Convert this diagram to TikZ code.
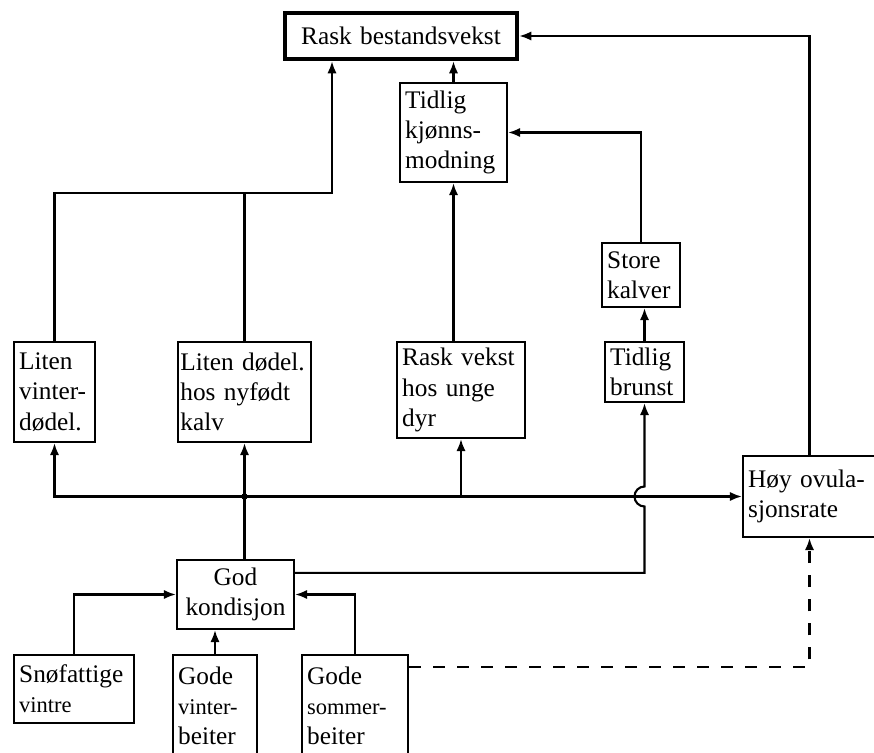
\documentclass[tikz,border=0pt]{standalone}
\usepackage{fontspec}
\setmainfont{Liberation Serif}
\usetikzlibrary{arrows.meta}
\newcommand{\smalltxt}[1]{{\fontsize{16pt}{21.5pt}\selectfont #1}}
\tikzset{
  box/.style={draw, rectangle, line width=1.5pt, inner xsep=1.3mm, inner ysep=0pt, align=left, font=\fontsize{18pt}{21.5pt}\selectfont},
  mainbox/.style={box, line width=3.2pt, align=center},
  arr/.style={line width=1.5pt, -{Latex[length=3mm,width=2.3mm]}},
  wire/.style={line width=1.5pt}
}
\begin{document}
\begin{tikzpicture}[x=0.025cm, y=-0.025cm]%
\useasboundingbox (0, 0) rectangle (874, 753);%
\node[mainbox, text width=55.4mm, minimum height=11.5mm] (R) at (401, 36) {Rask bestandsvekst};%
\node[box, text width=24.15mm, minimum height=24.75mm] (TK) at (453.5, 132.5) {Tidlig\\kjønns-\\modning};%
\node[box, text width=16.9mm, minimum height=16mm] (SK) at (641, 275) {Store\\kalver};%
\node[box, text width=17.15mm, minimum height=15mm] (TB) at (644.5, 372) {Tidlig\\brunst};%
\node[box, text width=17.65mm, minimum height=25mm] (LV) at (54.5, 392) {Liten\\vinter-\\dødel.};%
\node[box, inner xsep=0.6mm, text width=32.05mm, minimum height=25mm] (LD) at (244.5, 392) {Liten dødel.\\hos nyfødt\\kalv};%
\node[box, text width=29.4mm, minimum height=24mm] (RV) at (461, 390) {Rask vekst\\hos unge\\dyr};%
\node[box, text width=30.65mm, minimum height=20.25mm] (HO) at (809.5, 496.5) {Høy ovula-\\sjonsrate};%
\node[box, align=center, text width=26.65mm, minimum height=17.25mm] (GK) at (235.5, 594.5) {God\\kondisjon};%
\node[box, text width=27.4mm, minimum height=17mm] (SV) at (74, 689) {Snøfattige\\\smalltxt{vintre}};%
\node[box, text width=18.4mm, minimum height=25.5mm] (GV) at (215, 706) {Gode\\\smalltxt{vinter-}\\beiter};%
\node[box, text width=23.9mm, minimum height=25.5mm] (GS) at (355, 706) {Gode\\\smalltxt{sommer-}\\beiter};%
\coordinate (lj) at (332, 193);%
\coordinate (bus) at (LD.south |- HO.west);%
\coordinate (gk1) at ([yshift=-3.5mm]GK.north east);%
\coordinate (gs1) at ([yshift=-3.25mm]GS.north east);%
\draw[arr] (TK.north) -- (TK.north |- R.south);%
\draw[arr] (TK.south |- RV.north) -- (TK.south);%
\draw[arr] (TB.north) -- (TB.north |- SK.south);%
\draw[arr] (SK.north) |- (TK.east);%
\draw[arr] (LV.north) |- (lj) -- (lj |- R.south);%
\draw[wire] (LD.north) -- (LD.north |- lj);%
\draw[arr] (HO.north) |- (R.east);%
\draw[arr] (bus) -- (LD.south);%
\draw[arr] (bus) -| (LV.south);%
\draw[arr] (bus) -- (bus -| HO.west);%
\draw[arr] (RV.south |- bus) -- (RV.south);%
\fill (bus) circle[radius=0.8mm];%
\draw[wire] (GK.north -| bus) -- (bus);%
\draw[arr] (gk1) -| ([yshift=-2.5mm]TB.south |- bus) arc[start angle=-90, end angle=-270, radius=2.5mm] -- (TB.south);%
\draw[arr] (SV.north) |- (GK.west);%
\draw[arr] (GV.north) -- (GV.north |- GK.south);%
\draw[arr] (GS.north) |- (GK.east);%
\draw[arr, dash pattern=on 3mm off 3mm] (gs1) -| (HO.south);%
\end{tikzpicture}
\end{document}
